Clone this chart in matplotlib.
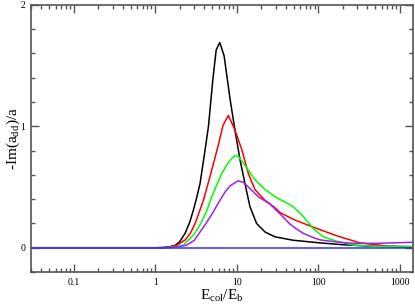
import numpy as np
import matplotlib.pyplot as plt
from matplotlib.ticker import MultipleLocator, LogLocator, FixedLocator, NullFormatter

plt.rcParams['font.family'] = ['Liberation Serif', 'DejaVu Serif']
plt.rcParams['mathtext.fontset'] = 'custom'
plt.rcParams['mathtext.rm'] = 'Liberation Serif'
plt.rcParams['mathtext.it'] = 'Liberation Serif'

# curves (E_col/E_b, -Im(a_dd)/a)
black_x = [0.03, 1.0, 1.3, 1.55, 1.76, 2.0, 2.33, 2.65, 2.94, 3.25, 3.55, 4.1, 4.5, 5.1,
           5.6, 6.2, 7.0, 8.3, 9.5, 11.0, 12.6, 14.5, 17.5, 22.2, 29.4, 49, 105, 200, 400,
           800, 1450]
black_y = [0, 0, 0.003, 0.01, 0.02, 0.05, 0.12, 0.21, 0.31, 0.42, 0.53, 0.81, 1.0, 1.39,
           1.63, 1.69, 1.58, 1.22, 0.97, 0.72, 0.53, 0.34, 0.20, 0.13, 0.09, 0.062, 0.04,
           0.025, 0.014, 0.008, 0.005]

red_x = [0.03, 1.2, 1.5, 1.84, 2.33, 2.7, 3.09, 3.9, 4.94, 5.96, 6.8, 7.9, 9.5, 11.5, 13.9,
         16.7, 22.2, 29.4, 33.8, 49, 86, 166, 324, 680, 1450]
red_y = [0, 0, 0.006, 0.02, 0.064, 0.12, 0.2, 0.39, 0.64, 0.85, 1.01, 1.09, 0.97, 0.81, 0.61,
         0.48, 0.39, 0.33, 0.29, 0.235, 0.17, 0.10, 0.04, 0.015, 0.008]

green_x = [0.03, 1.3, 1.7, 2.2, 2.55, 3.0, 3.55, 4.2, 4.94, 5.7, 6.55, 7.2, 8.3, 9.5, 10.5,
           12.6, 16.7, 22.2, 29.4, 38, 49, 65, 86, 115, 166, 268, 500, 1450]
green_y = [0, 0, 0.005, 0.02, 0.064, 0.11, 0.19, 0.29, 0.42, 0.52, 0.61, 0.66, 0.72, 0.76,
           0.75, 0.68, 0.56, 0.48, 0.42, 0.38, 0.34, 0.26, 0.16, 0.09, 0.055, 0.022, 0.012,
           0.01]

purple_x = [0.03, 1.3, 1.8, 2.4, 3.0, 4.1, 5.0, 5.96, 7.2, 8.3, 10.3, 12.0, 13.9, 18.4, 25.5,
            29.4, 33.8, 45, 54, 65, 86, 105, 166, 260, 500, 1000, 1450]
purple_y = [0, 0, 0.006, 0.02, 0.06, 0.19, 0.28, 0.37, 0.46, 0.51, 0.55, 0.54, 0.50, 0.42,
            0.36, 0.32, 0.28, 0.195, 0.155, 0.12, 0.085, 0.065, 0.048, 0.037, 0.036, 0.042,
            0.045]

blue_x = [0.03, 1450]
blue_y = [0, 0]

fig = plt.figure(figsize=(4.15, 3.06), dpi=100)
ax = fig.add_axes([0.0747, 0.111, 0.9205, 0.873])

ax.plot(black_x, black_y, color='black', linewidth=1.1)
ax.plot(red_x, red_y, color='#ff0000', linewidth=1.1)
ax.plot(green_x, green_y, color='#00ff00', linewidth=1.1)
ax.plot(purple_x, purple_y, color='#a020f0', linewidth=1.1)
ax.plot(blue_x, blue_y, color='#3030ff', linewidth=1.1)

ax.set_xscale('log')
ax.set_xlim(0.03, 1450)
ax.set_ylim(-0.2, 2)

ax.xaxis.set_major_locator(FixedLocator([0.1, 1, 10, 100, 1000]))
ax.set_xticklabels(['0.1', '1', '10', '100', '1000'])
ax.xaxis.set_minor_locator(LogLocator(base=10, subs=np.arange(2, 10)))
ax.xaxis.set_minor_formatter(NullFormatter())
ax.yaxis.set_major_locator(FixedLocator([0, 1, 2]))
ax.set_yticklabels(['0', '1', '2'])
ax.yaxis.set_minor_locator(MultipleLocator(0.2))

ax.tick_params(which='both', direction='in', top=True, right=True, colors='#555555',
               labelcolor='black', labelsize=7)
ax.tick_params(which='major', length=5.8, width=1.0, pad=4)
ax.tick_params(which='minor', length=2.9, width=1.0)
for s in ax.spines.values():
    s.set_color('#555555')
    s.set_linewidth(1.2)

ax.set_xlabel('E$_{\\mathrm{col}}$/E$_{\\mathrm{b}}$', fontsize=11, labelpad=1)
ax.set_ylabel('-Im(a$_{\\mathrm{dd}}$)/a', fontsize=11, labelpad=-1)

fig.savefig('out.png', dpi=100)
